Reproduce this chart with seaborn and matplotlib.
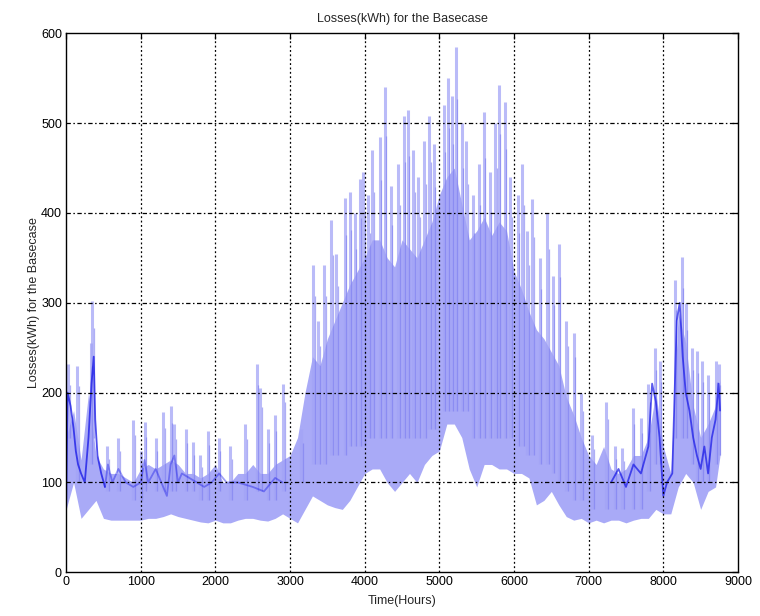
import numpy as np
import pandas as pd
import seaborn as sns
import matplotlib
matplotlib.use("Agg")
import matplotlib.pyplot as plt

# ---------------- data ----------------
# envelope of the dense part of the hourly series, every 100 h
hours = [0, 100, 200, 300, 400, 500, 600, 700, 800, 900,
         1000, 1100, 1200, 1300, 1400, 1500, 1600, 1700, 1800, 1900,
         2000, 2100, 2200, 2300, 2400, 2500, 2600, 2700, 2800, 2900,
         3000, 3100, 3200, 3300, 3400, 3500, 3600, 3700, 3800, 3900,
         4000, 4100, 4200, 4300, 4400, 4500, 4600, 4700, 4800, 4900,
         5000, 5100, 5200, 5300, 5400, 5500, 5600, 5700, 5800, 5900,
         6000, 6100, 6200, 6300, 6400, 6500, 6600, 6700, 6800, 6900,
         7000, 7100, 7200, 7300, 7400, 7500, 7600, 7700, 7800, 7900,
         8000, 8100, 8200, 8300, 8400, 8500, 8600, 8700, 8760]
band_low = [70, 100, 60, 70, 80, 60, 58, 58, 58, 58,
            58, 60, 60, 62, 65, 62, 60, 58, 56, 55,
            58, 55, 55, 58, 60, 60, 58, 57, 60, 65,
            60, 55, 70, 85, 80, 75, 72, 70, 80, 95,
            110, 115, 115, 100, 90, 100, 110, 100, 120, 130,
            135, 165, 165, 150, 115, 95, 120, 120, 115, 115,
            110, 110, 105, 75, 80, 90, 75, 62, 58, 60,
            55, 58, 55, 58, 58, 55, 58, 60, 60, 70,
            65, 65, 95, 110, 100, 70, 90, 95, 130]
band_high = [150, 180, 125, 200, 130, 115, 110, 110, 105, 100,
             115, 120, 115, 120, 125, 120, 110, 110, 105, 110,
             120, 100, 100, 110, 110, 120, 110, 110, 120, 125,
             130, 150, 200, 240, 230, 260, 280, 300, 320, 335,
             350, 370, 370, 350, 340, 370, 360, 350, 370, 390,
             420, 440, 450, 410, 370, 380, 395, 375, 390, 380,
             335, 315, 290, 270, 260, 245, 230, 195, 175, 150,
             130, 120, 140, 115, 110, 115, 130, 130, 150, 200,
             140, 110, 290, 255, 185, 150, 165, 185, 215]

# isolated spikes: time, bottom, top
spike_hours = [30, 150, 330, 350, 550, 700, 900, 1000, 1050, 1200,
               1300, 1400, 1450, 1600, 1700, 1800, 1900, 2050, 2200, 2400,
               2555, 2600, 2700, 2800, 2910, 3150,
               3310, 3380, 3460, 3555, 3620, 3733, 3800, 3870, 3933, 3980,
               4050, 4100, 4200, 4267, 4350, 4450, 4520, 4580, 4650, 4720,
               4800, 4867, 4930, 5060, 5111, 5170, 5222, 5300, 5360, 5450,
               5530, 5600, 5680, 5750, 5800, 5880, 5950, 6050, 6111, 6180,
               6244, 6350, 6444, 6520, 6600, 6700, 6800, 6900,
               7050, 7237, 7350, 7450, 7596, 7700, 7800, 7888, 7950, 8150,
               8247, 8300, 8380, 8450, 8520, 8600, 8700, 8740]
spike_low = [150, 100, 120, 150, 90, 90, 80, 80, 90, 90,
             90, 90, 90, 90, 90, 80, 80, 90, 80, 80,
             90, 90, 80, 80, 90, 100,
             120, 120, 120, 130, 130, 130, 140, 140, 140, 140,
             150, 150, 150, 150, 150, 150, 150, 150, 150, 150,
             150, 160, 160, 180, 180, 180, 180, 180, 180, 150,
             150, 150, 150, 150, 150, 150, 150, 140, 140, 130,
             130, 120, 120, 110, 100, 90, 80, 80,
             70, 70, 70, 70, 70, 70, 90, 120, 120, 150,
             150, 150, 120, 100, 100, 100, 120, 130]
spike_high = [232, 230, 255, 302, 140, 150, 170, 135, 167, 150,
              178, 185, 165, 160, 145, 130, 157, 150, 140, 165,
              232, 205, 160, 175, 210, 160,
              342, 280, 342, 392, 354, 417, 423, 400, 438, 446,
              420, 470, 485, 540, 430, 454, 508, 515, 470, 440,
              480, 508, 477, 520, 550, 530, 585, 500, 480, 420,
              454, 512, 446, 500, 542, 523, 440, 420, 454, 380,
              415, 350, 400, 330, 365, 280, 266, 200,
              153, 190, 140, 138, 183, 172, 210, 250, 235, 325,
              351, 300, 250, 246, 235, 220, 235, 232]

# darker, slowly varying trace visible in the winter months (three stretches)
core_hours = [0, 20, 60, 100, 130, 160, 200, 250, 300, 340, 370, 390, 420, 470, 520,
              520, 560, 620, 700, 800, 900, 1000, 1050, 1100, 1200,
              1300, 1350, 1400, 1450, 1500, 1550, 1650, 1750, 1850, 1950,
              2050, 2150, 2300, 2500, 2650, 2800, 2900,
              7300, 7400, 7500, 7600, 7700, 7800, 7850, 7900, 7950, 8000,
              8050, 8120, 8180, 8220, 8260, 8300, 8350, 8400, 8450, 8500,
              8550, 8600, 8650, 8700, 8740, 8760]
core_values = [70, 200, 185, 160, 135, 120, 110, 100, 150, 210, 240, 170, 130, 110, 95,
               95, 120, 100, 115, 100, 95, 100, 125, 100, 115,
               95, 85, 120, 130, 100, 110, 105, 100, 95, 100,
               110, 100, 100, 95, 90, 105, 100,
               100, 115, 95, 120, 110, 140, 210, 190, 150, 85,
               100, 110, 280, 300, 240, 200, 180, 150, 130, 115,
               140, 110, 150, 170, 210, 180]
core_stretch = ["early"] * 15 + ["mid"] * 27 + ["late"] * 26

x_ticks = [0, 1000, 2000, 3000, 4000, 5000, 6000, 7000, 8000, 9000]
y_ticks = [0, 100, 200, 300, 400, 500, 600]

title_text = "Losses(kWh) for the Basecase"
x_label = "Time(Hours)"
y_label = "Losses(kWh) for the Basecase"

# ---------------- drawing ----------------
sns.set_style("white")
plt.rcParams["font.family"] = ["Liberation Sans", "DejaVu Sans"]

band = pd.DataFrame({"hour": hours, "low": band_low, "high": band_high})
spikes = pd.DataFrame({"hour": spike_hours, "low": spike_low, "high": spike_high})
core = pd.DataFrame({"hour": core_hours, "value": core_values, "stretch": core_stretch})

fig = plt.figure(figsize=(7.6, 6.16), dpi=100)
ax = fig.add_axes([0.087, 0.071, 0.884, 0.875])

ax.fill_between(band["hour"], band["low"], band["high"],
                color="#a9aaf7", linewidth=0, zorder=2)
ax.vlines(spikes["hour"], spikes["low"], spikes["high"],
          color="#a3a4f6", linewidth=2.2, alpha=0.75, zorder=2)
ax.vlines(spikes["hour"] + 18, spikes["low"], spikes["high"] * 0.9,
          color="#7b7cf0", linewidth=0.9, alpha=0.6, zorder=3)

strength = {"early": 0.75, "mid": 0.4, "late": 0.7}
for name, part in core.groupby("stretch", sort=False):
    sns.lineplot(data=part, x="hour", y="value", ax=ax, color="#1414e6",
                 linewidth=1.3, alpha=strength[name], zorder=4,
                 estimator=None, sort=False)

ax.set_xlim(0, 9000)
ax.set_ylim(0, 600)
ax.set_xticks(x_ticks)
ax.set_yticks(y_ticks)
ax.set_xticklabels([str(v) for v in x_ticks])
ax.set_yticklabels([str(v) for v in y_ticks])

for v in x_ticks[1:-1]:
    ax.axvline(v, color="black", linewidth=0.9, linestyle=(0, (1.5, 2.0)), zorder=5)
for v in y_ticks[1:-1]:
    ax.axhline(v, color="black", linewidth=0.9, linestyle=(0, (3.5, 2.0, 1.2, 2.0)), zorder=5)

ax.tick_params(direction="in", length=4, width=0.9, top=True, right=True,
               labelsize=9, colors="black", pad=3)
for s in ax.spines.values():
    s.set_color("black")
    s.set_linewidth(1.0)
    s.set_zorder(6)

ax.set_title(title_text, fontsize=9, pad=8)
ax.set_xlabel(x_label, fontsize=9, labelpad=5)
ax.set_ylabel(y_label, fontsize=9, labelpad=1)

fig.savefig("out.png", dpi=100, facecolor="white")
